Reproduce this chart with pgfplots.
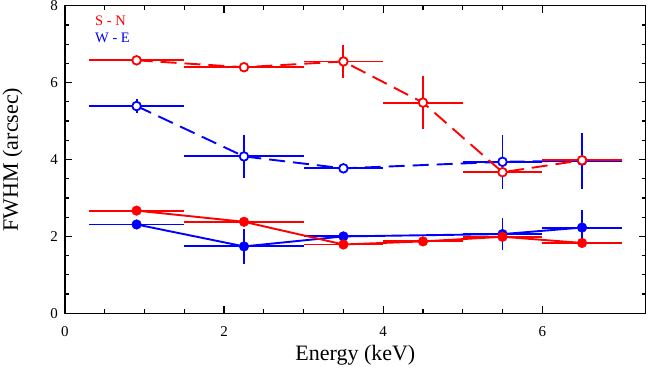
\documentclass[border=0pt]{standalone}
\usepackage{pgfplots}
\pgfplotsset{compat=1.18}
\usepackage{pgfplotstable}
\usepackage{fontspec}
\setmainfont{Liberation Serif}
\definecolor{myred}{RGB}{255,0,0}
\definecolor{myblue}{RGB}{0,0,255}

\pgfplotstableread{
x y ex ey
0.9 6.58 0.6 0.06
2.25 6.40 0.75 0.08
3.5 6.55 0.5 0.43
4.5 5.48 0.5 0.68
5.5 3.67 0.5 0.10
6.5 3.98 0.5 0.10
}\SNopen

\pgfplotstableread{
x y ex ey
0.9 5.39 0.6 0.18
2.25 4.08 0.75 0.57
3.5 3.77 0.5 0.06
5.5 3.94 0.5 0.70
6.5 3.97 0.5 0.73
}\WEopen

\pgfplotstableread{
x y ex ey
0.9 2.67 0.6 0.08
2.25 2.38 0.75 0.10
3.5 1.79 0.5 0.10
4.5 1.87 0.5 0.08
5.5 1.99 0.5 0.10
6.5 1.83 0.5 0.08
}\SNfill

\pgfplotstableread{
x y ex ey
0.9 2.31 0.6 0.08
2.25 1.74 0.75 0.45
3.5 2.00 0.5 0.06
5.5 2.06 0.5 0.41
6.5 2.23 0.5 0.45
}\WEfill

\begin{document}
\begin{tikzpicture}
\path[use as bounding box] (-65pt,-53.7pt) rectangle (585pt,313.3pt);
\begin{axis}[
  at={(0,0)}, anchor=south west,
  scale only axis,
  width=580.7pt, height=307.6pt,
  xmin=0, xmax=7.3, ymin=0, ymax=8,
  xtick={0,2,4,6}, ytick={0,2,4,6,8},
  minor x tick num=3, minor y tick num=3,
  tick align=inside,
  major tick length=7pt, minor tick length=4pt,
  axis line style={line width=1.5pt},
  every tick/.style={black, line width=1.2pt},
  /pgf/number format/assume math mode=true,
  xticklabel style={font=\fontsize{15}{17}\selectfont, inner sep=0pt, anchor=base, yshift=-23.4pt},
  yticklabel style={font=\fontsize{15}{17}\selectfont, inner sep=0pt, anchor=east, xshift=-7pt},
  xlabel={Energy (keV)},
  ylabel={FWHM (arcsec)},
  xlabel style={font=\fontsize{22}{26}\selectfont, inner sep=0pt, at={(axis description cs:0.5,0)}, anchor=base, yshift=-46.7pt},
  ylabel style={font=\fontsize{22}{26}\selectfont, inner sep=0pt, at={(axis description cs:-0.081,0.5)}, anchor=base},
  error bars/error bar style={solid, line width=1.9pt},
  error bars/error mark=none,
]
% blue open
\addplot[myblue, line width=1.9pt, dash pattern=on 16pt off 8pt,
  mark=*, mark size=4.3pt, mark options={solid, fill=white, draw=myblue, line width=1.8pt},
  error bars/.cd, x dir=both, x explicit, y dir=both, y explicit]
  table[x=x, y=y, x error=ex, y error=ey] {\WEopen};
% red open
\addplot[myred, line width=1.9pt, dash pattern=on 16pt off 8pt,
  mark=*, mark size=4.3pt, mark options={solid, fill=white, draw=myred, line width=1.8pt},
  error bars/.cd, x dir=both, x explicit, y dir=both, y explicit]
  table[x=x, y=y, x error=ex, y error=ey] {\SNopen};
% blue filled
\addplot[myblue, line width=1.9pt,
  mark=*, mark size=4.8pt, mark options={solid, fill=myblue, draw=myblue, line width=0.5pt},
  error bars/.cd, x dir=both, x explicit, y dir=both, y explicit]
  table[x=x, y=y, x error=ex, y error=ey] {\WEfill};
% red filled
\addplot[myred, line width=1.9pt,
  mark=*, mark size=4.8pt, mark options={solid, fill=myred, draw=myred, line width=0.5pt},
  error bars/.cd, x dir=both, x explicit, y dir=both, y explicit]
  table[x=x, y=y, x error=ex, y error=ey] {\SNfill};

\node[anchor=base west, inner sep=0pt, text=myred, font=\fontsize{14.5}{16}\selectfont] at (rel axis cs:0.0517,0.935) {S - N};
\node[anchor=base west, inner sep=0pt, text=myblue, font=\fontsize{14.5}{16}\selectfont] at (rel axis cs:0.0517,0.880) {W - E};
\end{axis}
\end{tikzpicture}
\end{document}
